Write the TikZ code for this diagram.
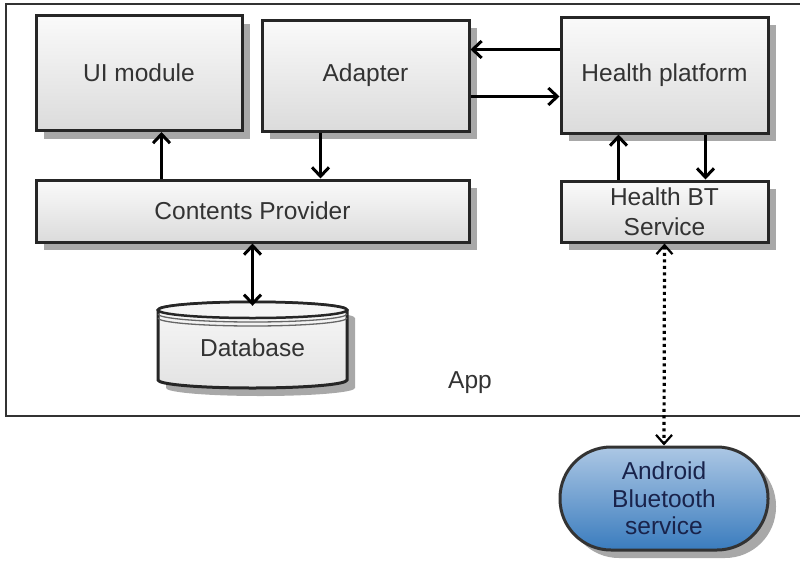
\documentclass[tikz,border=0pt]{standalone}
\usepackage{fontspec}
\setmainfont{Liberation Sans}
\usetikzlibrary{arrows.meta,shadows,calc}
\definecolor{bluetop}{RGB}{172,199,228}
\definecolor{bluebot}{RGB}{58,124,190}
\definecolor{navytext}{RGB}{25,35,75}
\begin{document}
\begin{tikzpicture}[x=1pt,y=-1pt,
  box/.style={draw=black!85,line width=3pt,top color=gray!4,bottom color=gray!28,
    drop shadow={shadow xshift=8pt,shadow yshift=-8pt,fill=gray!68,opacity=1},
    font=\fontsize{24.5}{30}\selectfont,text=black!80,align=center,inner sep=0pt},
  arr/.style={line width=3pt,draw=black,-{Straight Barb[length=9pt,width=17pt]}},
  darr/.style={line width=3pt,draw=black,{Straight Barb[length=9pt,width=17pt]}-{Straight Barb[length=9pt,width=17pt]}},
  dotarr/.style={line width=3.2pt,draw=black,dash pattern=on 3pt off 3.5pt,
    {Straight Barb[length=9pt,width=16pt,line width=2.2pt]}-{Straight Barb[length=9pt,width=16pt,line width=2.2pt]}},
  lbl/.style={font=\fontsize{24.5}{30}\selectfont,text=black!80}]
\useasboundingbox (0,0) rectangle (800,560);
\fill[white] (0,0) rectangle (800,560);
% App frame
\draw[line width=1.5pt,black!80] (800,4) -- (6,4) -- (6,416) -- (800,416);
\node[lbl] (app) at (470,383) {App};
% boxes
\node[box,minimum width=206pt,minimum height=115pt] (ui) at (139,73) {UI module};
\node[box,minimum width=207pt,minimum height=111pt] (adapter) at (365.5,75.5) {Adapter};
\node[box,minimum width=207pt,minimum height=116pt] (hp) at (664.5,75) {Health platform};
\node[box,minimum width=433pt,minimum height=62pt] (cp) at (252.5,211) {Contents Provider};
\node[box,minimum width=207pt,minimum height=61pt] (bt) at (664.5,211.5) {Health BT\\Service};
\node[box,draw=black!80,top color=bluetop,bottom color=bluebot,rounded corners=51pt,
  minimum width=208pt,minimum height=103pt,text=navytext,font=\fontsize{24.5}{27.5}\selectfont]
  (andr) at (664,498.5) {Android\\Bluetooth\\service};
% database cylinder
\begin{scope}[shift={(8,8)}]
\fill[gray!68] (158,310) -- (158,380) arc[start angle=180,end angle=360,x radius=94.5pt,y radius=8pt]
  -- (347,310) arc[start angle=0,end angle=180,x radius=94.5pt,y radius=8pt] -- cycle;
\end{scope}
\draw[line width=3pt,draw=black!85,top color=gray!6,bottom color=gray!22]
  (158,310) -- (158,380) arc[start angle=180,end angle=360,x radius=94.5pt,y radius=8pt]
  -- (347,310) arc[start angle=0,end angle=180,x radius=94.5pt,y radius=8pt] -- cycle;
\draw[line width=2.5pt,draw=black!85,fill=gray!8] (252.5,310) ellipse [x radius=94.5pt,y radius=8pt];
\draw[line width=1.3pt,draw=black!60] (158,314) arc[start angle=180,end angle=360,x radius=94.5pt,y radius=8pt];
\draw[line width=1.3pt,draw=black!60] (158,318) arc[start angle=180,end angle=360,x radius=94.5pt,y radius=8pt];
\node[minimum width=189pt,minimum height=85pt,inner sep=0pt] (db) at (252.5,344.5) {};
\node[lbl] (dblabel) at (252.5,348) {Database};
% connectors
\coordinate (u1) at ([xshift=127pt]cp.north west);
\draw[arr] (u1) -- (u1 |- ui.south);
\coordinate (a1) at ([xshift=60pt]adapter.south west);
\draw[arr] (a1) -- (a1 |- cp.north);
\coordinate (h1) at ([yshift=-34pt]hp.north west);
\draw[arr] (h1) -- (h1 -| adapter.east);
\coordinate (h2) at ([yshift=-81pt]hp.north west);
\draw[arr] (h2 -| adapter.east) -- (h2);
\coordinate (b1) at ([xshift=59pt]bt.north west);
\draw[arr] (b1) -- (b1 |- hp.south);
\coordinate (b2) at ([xshift=146pt]hp.south west);
\draw[arr] (b2) -- (b2 |- bt.north);
\draw[darr] (cp.south) -- ([yshift=-4pt]db.north);
\draw[dotarr] (bt.south) -- (andr.north);
\end{tikzpicture}
\end{document}
